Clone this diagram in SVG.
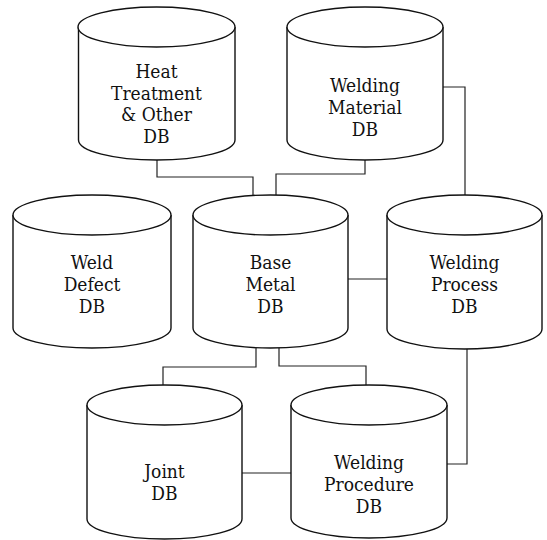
<svg xmlns="http://www.w3.org/2000/svg" width="547" height="540" viewBox="0 0 547 540">
<style>
.cyl path, .cyl ellipse { fill: #fff; stroke: #111; stroke-width: 1.4; }
.cyl text { font-family: 'DejaVu Serif Condensed', 'DejaVu Serif', serif; font-stretch: condensed; font-size: 19px; fill: #111; text-anchor: middle; }
#connectors path { fill: none; stroke: #222; stroke-width: 1.2; }
</style>
<rect width="547" height="540" fill="#fff"/>
<g id="connectors">
<path d="M157 160 V177 H253 V195"/>
<path d="M365 160 V174 H276 V195"/>
<path d="M443 87 H465 V195"/>
<path d="M348 279 H387"/>
<path d="M256 348 V367 H163 V385"/>
<path d="M279 348 V366 H366 V385"/>
<path d="M467 349 V464 H447"/>
<path d="M242 473 H291"/>
</g>
<g id="heat-treatment" class="cyl">
<path d="M78.5 27 V140 A78 20 0 0 0 235 140 V27"/>
<ellipse cx="156.5" cy="27" rx="78.5" ry="20"/>
<text x="156.5" y="78">Heat</text>
<text x="156.5" y="100">Treatment</text>
<text x="156.5" y="121">&amp; Other</text>
<text x="156.5" y="143">DB</text>
</g>
<g id="welding-material" class="cyl">
<path d="M287 27 V140 A78 20 0 0 0 443 140 V27"/>
<ellipse cx="365" cy="27" rx="78" ry="20"/>
<text x="365" y="92">Welding</text>
<text x="365" y="114">Material</text>
<text x="365" y="136">DB</text>
</g>
<g id="weld-defect" class="cyl">
<path d="M13 215 V328 A79 20 0 0 0 171 328 V215"/>
<ellipse cx="92" cy="215" rx="79" ry="20"/>
<text x="92" y="269">Weld</text>
<text x="92" y="291">Defect</text>
<text x="92" y="313">DB</text>
</g>
<g id="base-metal" class="cyl">
<path d="M193 215 V328 A77.5 20 0 0 0 348 328 V215"/>
<ellipse cx="270.5" cy="215" rx="77.5" ry="20"/>
<text x="270.5" y="269">Base</text>
<text x="270.5" y="291">Metal</text>
<text x="270.5" y="313">DB</text>
</g>
<g id="welding-process" class="cyl">
<path d="M387 215 V329 A77.5 20 0 0 0 542 329 V215"/>
<ellipse cx="464.5" cy="215" rx="77.5" ry="20"/>
<text x="464.5" y="269">Welding</text>
<text x="464.5" y="291">Process</text>
<text x="464.5" y="313">DB</text>
</g>
<g id="joint" class="cyl">
<path d="M87 405 V519 A77.5 20 0 0 0 242 519 V405"/>
<ellipse cx="164.5" cy="405" rx="77.5" ry="20"/>
<text x="164.5" y="478">Joint</text>
<text x="164.5" y="500">DB</text>
</g>
<g id="welding-procedure" class="cyl">
<path d="M291 405 V518 A78 20 0 0 0 447 518 V405"/>
<ellipse cx="369" cy="405" rx="78" ry="20"/>
<text x="369" y="469">Welding</text>
<text x="369" y="491">Procedure</text>
<text x="369" y="513">DB</text>
</g>
</svg>
